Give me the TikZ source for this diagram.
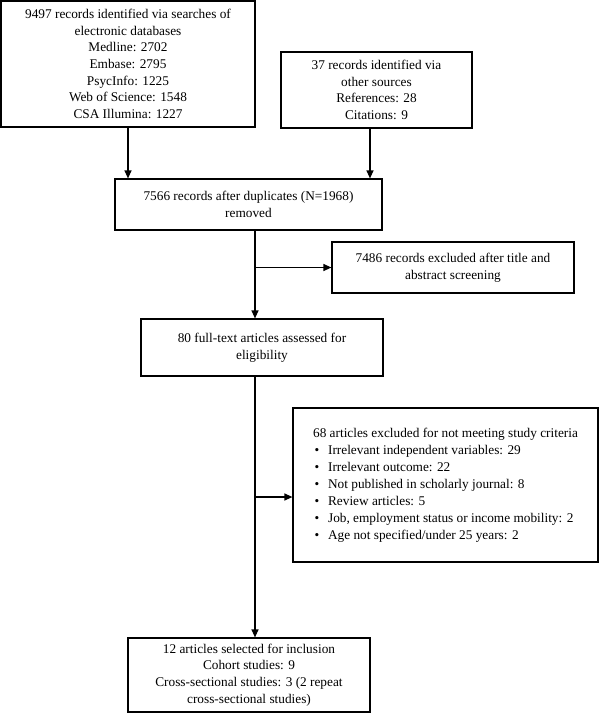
\documentclass[tikz,border=0pt]{standalone}
\usepackage{fontspec}
\setmainfont{Liberation Serif}
\usetikzlibrary{arrows.meta,calc}
\begin{document}
\begin{tikzpicture}[x=1pt,y=-1pt,
  box/.style={draw,line width=1.2pt,inner sep=0pt,align=center,
    font=\fontsize{13.3}{16.6}\selectfont},
  arr/.style={line width=1.2pt,-{Triangle[length=8pt,width=7pt]}},
  conn/.style={line width=1.2pt}]
\useasboundingbox (0,0) rectangle (600,713);
\node[box,minimum width=254,minimum height=126] (b1) at (128,64)
  {9497 records identified via searches of\\electronic databases\\Medline: 2702\\Embase: 2795\\PsycInfo: 1225\\Web of Science: 1548\\CSA Illumina: 1227};
\node[box,minimum width=191,minimum height=76] (b2) at (376.5,90)
  {37 records identified via\\other sources\\References: 28\\Citations: 9};
\node[box,minimum width=267,minimum height=51] (b3) at (248.5,204.5)
  {7566 records after duplicates (N=1968)\\removed};
\node[box,minimum width=242,minimum height=51] (b4) at (453,267.5)
  {7486 records excluded after title and\\abstract screening};
\node[box,minimum width=242,minimum height=57] (b5) at (262,347.5)
  {80 full-text articles assessed for\\eligibility};
\node[box,minimum width=305,minimum height=154,align=left,
  font=\fontsize{13.3}{17}\selectfont] (b6) at (445.5,485)
  {68 articles excluded for not meeting study criteria\\
   \makebox[15pt][l]{\hspace{1.5pt}•}Irrelevant independent variables: 29\\
   \makebox[15pt][l]{\hspace{1.5pt}•}Irrelevant outcome: 22\\
   \makebox[15pt][l]{\hspace{1.5pt}•}Not published in scholarly journal: 8\\
   \makebox[15pt][l]{\hspace{1.5pt}•}Review articles: 5\\
   \makebox[15pt][l]{\hspace{1.5pt}•}Job, employment status or income mobility: 2\\
   \makebox[15pt][l]{\hspace{1.5pt}•}Age not specified/under 25 years: 2};
\node[box,minimum width=242,minimum height=74] (b7) at (249,675)
  {12 articles selected for inclusion\\Cohort studies: 9\\Cross-sectional studies: 3 (2 repeat\\cross-sectional studies)};
% connectors
\draw[arr] (b1.south) -- (b1.south |- b3.north);
\coordinate (b2a) at ([xshift=-6.5pt]b2.south);
\draw[arr] (b2a) -- (b2a |- b3.north);
\coordinate (b3a) at ([xshift=6.5pt]b3.south);
\draw[arr] (b3a) -- (b3a |- b5.north);
\coordinate (j1) at (b3a |- b4.west);
\draw[arr] (j1) -- (b4.west);
\coordinate (b5a) at ([xshift=-7pt]b5.south);
\draw[arr] (b5a) -- (b5a |- b7.north);
\coordinate (j2) at (b5a |- 0,497);
\draw[arr] (j2) -- (j2 -| b6.west);
\end{tikzpicture}
\end{document}
